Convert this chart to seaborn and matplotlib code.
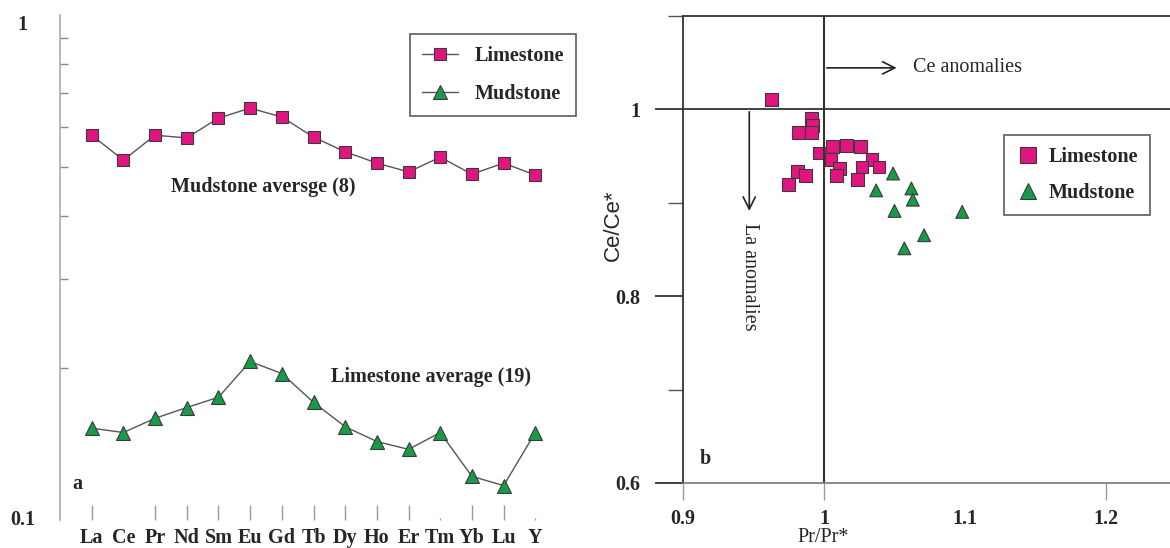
import numpy as np
import pandas as pd
import matplotlib.pyplot as plt
import seaborn as sns
from matplotlib.ticker import FixedLocator, NullFormatter

# panel a: average REE patterns
ree = ["La", "Ce", "Pr", "Nd", "Sm", "Eu", "Gd", "Tb", "Dy", "Ho", "Er", "Tm", "Yb", "Lu", "Y"]
limestone_avg = [0.578, 0.516, 0.578, 0.571, 0.625, 0.654, 0.628, 0.573, 0.536, 0.509,
                 0.489, 0.523, 0.484, 0.509, 0.482]
mudstone_avg = [0.152, 0.149, 0.159, 0.167, 0.175, 0.206, 0.195, 0.171, 0.153, 0.143,
                0.138, 0.149, 0.122, 0.117, 0.149]

# panel b: Ce/Ce* vs Pr/Pr*
lime_pr = [0.963, 0.991, 0.992, 0.982, 0.991, 0.997, 1.006, 1.016, 1.026, 1.005,
           1.011, 1.009, 0.981, 0.987, 0.975, 1.034, 1.027, 1.039, 1.024]
lime_ce = [1.010, 0.990, 0.982, 0.975, 0.975, 0.953, 0.960, 0.961, 0.960, 0.946,
           0.936, 0.929, 0.933, 0.929, 0.919, 0.946, 0.938, 0.938, 0.925]
mud_pr = [1.049, 1.037, 1.062, 1.063, 1.050, 1.098, 1.071, 1.057]
mud_ce = [0.931, 0.913, 0.915, 0.903, 0.891, 0.890, 0.865, 0.851]

pink = "#E0157F"
green = "#169B46"
edge = "#3a3a3a"
FS = 14.5

sns.set_style("white")
plt.rcParams["font.family"] = ["Liberation Serif", "DejaVu Serif"]
plt.rcParams["font.weight"] = "bold"

fig = plt.figure(figsize=(11.7, 5.48), dpi=100)

# ---------------- panel a ----------------
W, H = 1170, 548
ax1 = fig.add_axes([60 / W, (H - 520) / H, 507 / W, 505 / H])
pos = np.arange(len(ree))
df_a = pd.DataFrame({"pos": pos, "Limestone": limestone_avg, "Mudstone": mudstone_avg})

sns.lineplot(data=df_a, x="pos", y="Limestone", ax=ax1, color="#555555", linewidth=1,
             marker="s", markersize=9, markerfacecolor=pink, markeredgecolor=edge,
             markeredgewidth=0.8, label="Limestone")
sns.lineplot(data=df_a, x="pos", y="Mudstone", ax=ax1, color="#555555", linewidth=1,
             marker="^", markersize=10, markerfacecolor=green, markeredgecolor=edge,
             markeredgewidth=0.8, label="Mudstone")

ax1.set_yscale("log")
ax1.set_ylim(0.1, 1)
ax1.set_xlim(-1, 15)
ax1.set_xlabel("")
ax1.set_ylabel("")
for s in ["top", "right", "bottom"]:
    ax1.spines[s].set_visible(False)
ax1.spines["left"].set_color("#aaaaaa")
ax1.spines["left"].set_linewidth(1.2)

ax1.yaxis.set_major_locator(FixedLocator([0.1, 1]))
ax1.set_yticklabels(["0.1", "1"], fontsize=FS, fontweight="bold")
ax1.yaxis.set_minor_locator(FixedLocator([0.2, 0.3, 0.4, 0.5, 0.6, 0.7, 0.8, 0.9]))
ax1.yaxis.set_minor_formatter(NullFormatter())
ax1.tick_params(axis="y", which="major", length=0, pad=27)
ax1.tick_params(axis="y", which="minor", left=True, direction="in", length=6,
                width=1, color="#888888")
for lbl in ax1.get_yticklabels():
    lbl.set_horizontalalignment("center")
    lbl.set_verticalalignment("top" if lbl.get_text() == "1" else "center")

ax1.set_xticks(pos)
ax1.set_xticklabels(ree, fontsize=FS, fontweight="bold")
ax1.tick_params(axis="x", bottom=True, direction="in", length=11, width=1,
                color="#999999", pad=6)
# the scanned figure lost some of these tick marks
xt = ax1.xaxis.get_major_ticks()
xt[ree.index("Ce")].tick1line.set_visible(False)
for name in ["Tm", "Y"]:
    xt[ree.index(name)].tick1line.set_markersize(1.5)

ax1.text(5.4, 0.456, "Mudstone aversge (8)", fontsize=FS, fontweight="bold",
         ha="center", va="center")
ax1.text(10.7, 0.192, "Limestone average (19)", fontsize=FS, fontweight="bold",
         ha="center", va="center")
ax1.text(-0.6, 0.118, "a", fontsize=FS, fontweight="bold", va="center")

leg1 = ax1.legend(loc="upper left", bbox_to_anchor=(0.69, 0.962), frameon=True,
                  fancybox=False, edgecolor="#333333", fontsize=FS,
                  handlelength=1.8, labelspacing=0.9, borderpad=0.6,
                  borderaxespad=0)
leg1.get_frame().set_linewidth(1.2)
for t in leg1.get_texts():
    t.set_fontweight("bold")

# ---------------- panel b ----------------
ax2 = fig.add_axes([683 / W, (H - 483) / H, 487 / W, 467.5 / H])
df_b = pd.DataFrame({
    "Pr/Pr*": lime_pr + mud_pr,
    "Ce/Ce*": lime_ce + mud_ce,
    "rock": ["Limestone"] * len(lime_pr) + ["Mudstone"] * len(mud_pr),
})
sns.scatterplot(data=df_b, x="Pr/Pr*", y="Ce/Ce*", hue="rock", style="rock",
                markers={"Limestone": "s", "Mudstone": "^"},
                palette={"Limestone": pink, "Mudstone": green},
                s=85, edgecolor=edge, linewidth=0.8, ax=ax2)

ax2.set_xlim(0.9, 1.2454)
ax2.set_ylim(0.6, 1.1)
ax2.spines["right"].set_visible(False)
for s in ["left", "top"]:
    ax2.spines[s].set_color("#333333")
    ax2.spines[s].set_linewidth(1.3)
ax2.spines["bottom"].set_color("#777777")
ax2.spines["bottom"].set_linewidth(1.2)

ax2.axvline(1.0, color="#333333", linewidth=1.5)
ax2.axhline(1.0, color="#333333", linewidth=1.3)

ax2.set_xticks([0.9, 1.0, 1.1, 1.2])
ax2.set_xticklabels(["0.9", "1", "1.1", "1.2"], fontsize=FS, fontweight="bold")
ax2.tick_params(axis="x", bottom=True, direction="out", length=12, width=1,
                color="#999999", pad=7)
ax2.xaxis.get_major_ticks()[2].tick1line.set_visible(False)
ax2.xaxis.get_major_ticks()[1].tick1line.set_color("#333333")
ax2.set_yticks([0.6, 0.8, 1.0])
ax2.set_yticklabels(["0.6", "0.8", "1"], fontsize=FS, fontweight="bold")
ax2.yaxis.set_minor_locator(FixedLocator([0.7, 0.9, 1.1]))
ax2.tick_params(axis="y", which="major", left=True, direction="out", length=20,
                width=1.3, color="#333333", pad=11)
ax2.tick_params(axis="y", which="minor", left=True, direction="out", length=11,
                width=1, color="#555555")

ax2.set_xlabel("Pr/Pr*", fontsize=FS, fontweight="normal", va="center")
ax2.xaxis.set_label_coords(0.287, -(538 - 483) / 467.5)
ax2.set_ylabel("Ce/Ce*", fontsize=16, fontweight="normal", va="center",
               family=["Liberation Sans", "DejaVu Sans"])
ax2.yaxis.set_label_coords((613 - 683) / 487, 0.552)

ax2.annotate("", xy=(1.0535, 1.044), xytext=(1.0, 1.044),
             arrowprops=dict(arrowstyle="->", color="#222222", lw=1.2,
                             mutation_scale=22))
ax2.text(1.063, 1.044, "Ce anomalies", fontsize=FS, fontweight="normal",
         ha="left", va="center")
ax2.annotate("", xy=(0.947, 0.888), xytext=(0.947, 1.0),
             arrowprops=dict(arrowstyle="->", color="#222222", lw=1.2,
                             mutation_scale=22))
ax2.text(0.947, 0.878, "La anomalies", fontsize=FS, fontweight="normal",
         rotation=270, ha="center", va="top")
ax2.text(0.912, 0.62, "b", fontsize=FS, fontweight="bold")

leg2 = ax2.legend(loc="upper left", bbox_to_anchor=(0.659, 0.744), frameon=True,
                  fancybox=False, edgecolor="#333333", fontsize=FS,
                  handletextpad=0.4, handlelength=1.2, labelspacing=0.8,
                  borderpad=0.6, borderaxespad=0, markerscale=1.3, title=None)
leg2.get_frame().set_linewidth(1.2)
for t in leg2.get_texts():
    t.set_fontweight("bold")

fig.savefig("out.png", dpi=100)
